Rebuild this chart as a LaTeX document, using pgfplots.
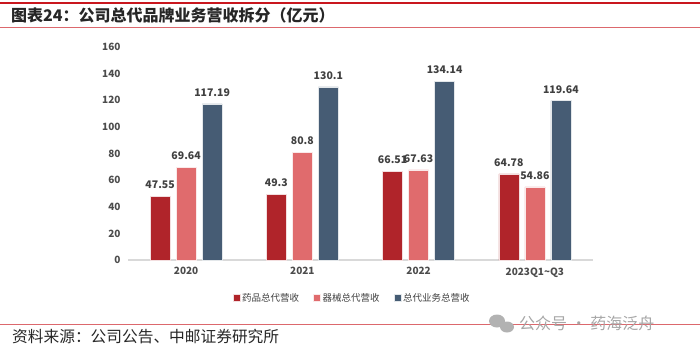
\documentclass[border=0pt]{standalone}
\usepackage{pgfplots}
\pgfplotsset{compat=1.18}
\usepackage{fontspec}
\setmainfont{Noto Sans CJK SC}
\definecolor{cA}{HTML}{B0242A}
\definecolor{cB}{HTML}{E06B6D}
\definecolor{cC}{HTML}{465C74}
\definecolor{lbl}{HTML}{404040}
\definecolor{redline}{HTML}{C9171E}
\begin{document}
\begin{tikzpicture}
\path[use as bounding box] (0,0) rectangle (700pt,-350pt);
\draw[redline, line width=2pt] (0,-3pt) -- (700pt,-3pt);
\draw[redline!65, line width=0.8pt] (0,-27pt) -- (700pt,-27pt);
\node[anchor=west, font=\fontsize{16}{18}\selectfont\bfseries, text=black!85, inner sep=0pt] at (11pt,-15pt) {图表24：公司总代品牌业务营收拆分（亿元）};
\draw[redline!65, line width=0.8pt] (0,-324pt) -- (700pt,-324pt);
\node[anchor=west, font=\fontsize{15.7}{18}\selectfont, text=black!85, inner sep=0pt] at (12pt,-337pt) {资料来源：公司公告、中邮证券研究所};
% watermark
\fill[black!30] (497pt,-321pt) ellipse (8pt and 6.5pt);
\fill[black!30] (507pt,-327pt) ellipse (7pt and 5.5pt);
\node[anchor=west, font=\fontsize{16}{18}\selectfont, text=black!35, inner sep=0pt] at (519pt,-323pt) {公众号 · 药海泛舟};
\begin{axis}[
  at={(128pt,-260pt)}, anchor=south west,
  width=465pt, height=213pt, scale only axis,
  xmin=-0.5, xmax=3.5, ymin=0, ymax=160,
  ytick={0,20,...,160},
  xtick={0,1,2,3},
  xticklabels={2020,2021,2022,2023Q1\textasciitilde Q3},
  ybar=6pt, bar width=20pt,
  axis x line*=bottom, axis y line*=left,
  x axis line style={draw=black!15, line width=1.2pt},
  y axis line style={draw=none},
  major tick length=0pt,
  /pgf/number format/assume math mode=true,
  tick label style={font=\fontsize{10}{12}\selectfont\bfseries, text=black!70},
  yticklabel style={xshift=-4pt},
  xticklabel style={yshift=-4pt},
  nodes near coords,
  point meta=explicit symbolic,
  every node near coord/.append style={font=\fontsize{10.5}{12}\selectfont\bfseries, text=lbl, yshift=4pt},
  legend columns=3,
  legend style={draw=none, at={(0.482,-0.178)}, anchor=center, font=\fontsize{9.5}{11}\selectfont, text=black!75,
    /tikz/every even column/.append style={column sep=12pt}},
  legend image code/.code={\fill[#1] (0pt,-3.5pt) rectangle (7pt,3.5pt);},
  clip=false,
]
\addplot[fill=cA, draw=white!85!cA, line width=0.5pt] coordinates {(0,47.55) [47.55] (1,49.3) [49.3] (2,66.51) [66.51] (3,64.78) [64.78]};
\addplot[fill=cB, draw=white!85!cB, line width=0.5pt] coordinates {(0,69.64) [69.64] (1,80.8) [80.8] (2,67.63) [67.63] (3,54.86) [54.86]};
\addplot[fill=cC, draw=white!85!cC, line width=0.5pt] coordinates {(0,117.19) [117.19] (1,130.1) [130.1] (2,134.14) [134.14] (3,119.64) [119.64]};
\legend{药品总代营收,器械总代营收,总代业务总营收}
\end{axis}
\end{tikzpicture}
\end{document}
